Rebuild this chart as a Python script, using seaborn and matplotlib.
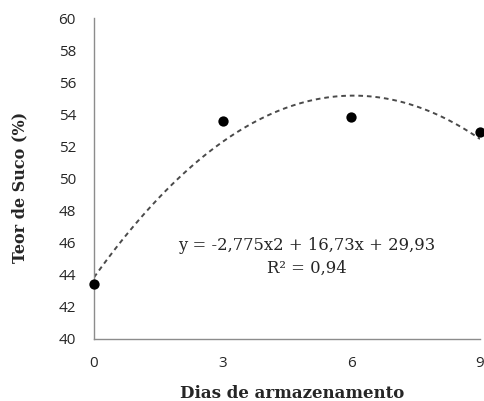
import numpy as np
import pandas as pd
import matplotlib
matplotlib.use("Agg")
import matplotlib.pyplot as plt
import seaborn as sns

days = [0, 3, 6, 9]
teor = [43.4, 53.6, 53.85, 52.9]
eq_text = "y = -2,775x2 + 16,73x + 29,93"
r2_text = "R² = 0,94"
x_ticks = [0, 3, 6, 9]
y_ticks = list(range(40, 61, 2))

df = pd.DataFrame({"dias": days, "teor": teor})

sns.set_theme(style="white")
plt.rcParams["font.family"] = ["Open Sans", "DejaVu Sans"]

W, H = 485, 401
fig = plt.figure(figsize=(W / 100, H / 100), dpi=100)
ax = fig.add_axes([94 / W, 1 - 339 / H, (480 - 94) / W, (339 - 18) / H])

sns.regplot(data=df, x="dias", y="teor", order=2, ci=None, ax=ax,
            scatter_kws=dict(s=55, color="black", alpha=1, zorder=3,
                             clip_on=False, linewidths=0),
            line_kws=dict(color="#4a4a4a", linestyle=(0, (2.4, 2.0)), linewidth=1.4))

ax.set_xlim(0, 9)
ax.set_ylim(40, 60)
ax.set_xticks(x_ticks)
ax.set_yticks(y_ticks)
ax.tick_params(axis="both", length=0, labelsize=11, colors="#262626")
ax.tick_params(axis="x", pad=12)
ax.tick_params(axis="y", pad=13)

for s in ["top", "right"]:
    ax.spines[s].set_visible(False)
for s in ["left", "bottom"]:
    ax.spines[s].set_color("#8c8c8c")
    ax.spines[s].set_linewidth(1.0)

serif = ["DejaVu Serif"]
ax.set_xlabel("Dias de armazenamento", fontsize=12, fontweight="bold",
              family=serif, va="center")
ax.xaxis.set_label_coords((292 - 94) / 386, (339 - 394) / 321)
ax.set_ylabel("Teor de Suco (%)", fontsize=11.5, fontweight="bold",
              family=serif, va="center")
ax.yaxis.set_label_coords((20 - 94) / 386, (339 - 187) / 321)

ax.text(307, H - 245, eq_text, transform=None, fontsize=11.8, family=serif,
        ha="center", va="center")
ax.text(307, H - 268, r2_text, transform=None, fontsize=11.8, family=serif,
        ha="center", va="center")

fig.savefig("out.png", dpi=100)
